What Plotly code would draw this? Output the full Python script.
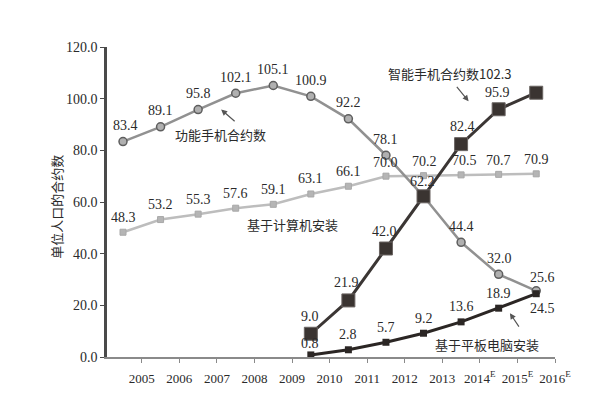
import plotly.graph_objects as go

years = ["2005", "2006", "2007", "2008", "2009", "2010", "2011", "2012", "2013",
         "2014<sup>E</sup>", "2015<sup>E</sup>", "2016<sup>E</sup>"]
feature_phone = [83.4, 89.1, 95.8, 102.1, 105.1, 100.9, 92.2, 78.1, 62.2, 44.4, 32.0, 25.6]
pc_install = [48.3, 53.2, 55.3, 57.6, 59.1, 63.1, 66.1, 70.0, 70.2, 70.5, 70.7, 70.9]
smartphone = [9.0, 21.9, 42.0, 62.2, 82.4, 95.9, 102.3]
tablet = [0.8, 2.8, 5.7, 9.2, 13.6, 18.9, 24.5]
smart_start = 5  # smartphone and tablet series begin at the 6th position
y_ticks = [0, 20, 40, 60, 80, 100, 120]

n = len(years)
x_all = list(range(n))
x_late = list(range(smart_start, smart_start + len(smartphone)))

NUM_FONT = "Liberation Serif, Times New Roman, serif"
CJK_FONT = "Noto Sans CJK SC, Liberation Serif, serif"
TXT = "#2a2a2a"

fig = go.Figure()
fig.add_trace(go.Scatter(
    x=x_all, y=pc_install, mode="lines+markers",
    line=dict(color="#bdbdbd", width=2.5),
    marker=dict(symbol="square", size=6, color="#b5b5b5", line=dict(color="#a8a8a8", width=1)),
    showlegend=False, hoverinfo="skip"))
fig.add_trace(go.Scatter(
    x=x_all, y=feature_phone, mode="lines+markers",
    line=dict(color="#919191", width=2.5),
    marker=dict(symbol="circle", size=8, color="#b0b0b0", line=dict(color="#5e5e5e", width=1.5)),
    showlegend=False, hoverinfo="skip"))
fig.add_trace(go.Scatter(
    x=x_late, y=tablet, mode="lines+markers",
    line=dict(color="#2b2624", width=3),
    marker=dict(symbol="square", size=7, color="#2b2624"),
    showlegend=False, hoverinfo="skip"))
fig.add_trace(go.Scatter(
    x=x_late, y=smartphone, mode="lines+markers",
    line=dict(color="#3b3634", width=3),
    marker=dict(symbol="square", size=13, color="#3a3431", line=dict(color="#6a6462", width=1)),
    showlegend=False, hoverinfo="skip"))

annotations = []


def add_labels(xs, ys, default=(0, 16), special=None, skip=()):
    special = special or {}
    for i, (xv, yv) in enumerate(zip(xs, ys)):
        if i in skip:
            continue
        dx, dy = special.get(i, default)
        annotations.append(dict(
            x=xv, y=yv, text=f"{yv:.1f}", showarrow=False,
            xshift=dx, yshift=dy, xanchor="center", yanchor="middle",
            font=dict(family=NUM_FONT, size=14, color=TXT)))


add_labels(x_all, feature_phone, default=(0, 16),
           special={0: (2, 16), 10: (1, 16), 11: (6, 13)}, skip=(8,))
add_labels(x_all, pc_install, default=(0, 15), special={7: (0, 14), 8: (1, 14), 9: (3, 14), 10: (0, 14), 11: (0, 14)})
add_labels(x_late, smartphone, default=(-1, 17),
           special={1: (-2, 18), 3: (-1, 15), 4: (1, 18)}, skip=(6,))
add_labels(x_late, tablet, default=(0, 15),
           special={0: (-1, 11), 6: (6, -15)})

# series name annotations
annotations.append(dict(x=2, y=feature_phone[2], ax=15, ay=13, axref="pixel", ayref="pixel",
                        showarrow=True, arrowhead=2, arrowsize=1, arrowwidth=1.2, arrowcolor="#555",
                        text="", xshift=23, yshift=0))
annotations.append(dict(x=2.6, y=feature_phone[2], text="功能手机合约数", showarrow=False,
                        xshift=0, yshift=-25, font=dict(family=CJK_FONT, size=13, color=TXT)))
annotations.append(dict(x=4.5, y=pc_install[4], text="基于计算机安装", showarrow=False,
                        yshift=-20, font=dict(family=CJK_FONT, size=13, color=TXT)))
annotations.append(dict(x=8.7, y=smartphone[6], text=f"智能手机合约数{smartphone[6]:.1f}", showarrow=False,
                        yshift=19, font=dict(family=CJK_FONT, size=13, color=TXT)))
annotations.append(dict(x=9.2, y=smartphone[5], ax=-13, ay=-16, axref="pixel", ayref="pixel",
                        showarrow=True, arrowhead=2, arrowsize=1, arrowwidth=1.2, arrowcolor="#555",
                        text="", yshift=8))
annotations.append(dict(x=9.7, y=tablet[3], text="基于平板电脑安装", showarrow=False,
                        yshift=-11, font=dict(family=CJK_FONT, size=13, color=TXT)))
annotations.append(dict(x=10.3, y=tablet[5], ax=10, ay=15, axref="pixel", ayref="pixel",
                        showarrow=True, arrowhead=2, arrowsize=1, arrowwidth=1.2, arrowcolor="#555",
                        text="", yshift=-5))
annotations.append(dict(x=-0.112, y=0.484, xref="paper", yref="paper", text="单位人口的合约数",
                        textangle=-90, showarrow=False, xanchor="center", yanchor="middle",
                        font=dict(family=CJK_FONT, size=13, color=TXT)))

# page body has an 8px default margin, so the figure is 16px smaller and margins shifted
fig.update_layout(
    width=600, height=383,
    margin=dict(l=99, r=53, t=39, b=34),
    paper_bgcolor="white", plot_bgcolor="white",
    annotations=annotations,
    font=dict(family=NUM_FONT, size=13, color=TXT),
)
fig.update_xaxes(
    range=[-0.426, 11.5], tickmode="array", automargin=False,
    tickvals=[i + 0.5 for i in range(n)], ticktext=years,
    showgrid=False, zeroline=False, showline=True, linecolor="#8a8a8a", linewidth=2,
    ticks="outside", ticklen=4, tickcolor="#8a8a8a", tickwidth=1, ticklabelstandoff=4,
    tickfont=dict(family=NUM_FONT, size=13, color=TXT))
fig.update_yaxes(
    range=[0, 120], tickmode="array", tickvals=y_ticks, tickformat=".1f", automargin=False,
    showgrid=False, zeroline=False, showline=True, linecolor="#4a4a4a", linewidth=2.5,
    ticks="outside", ticklen=4, tickcolor="#4a4a4a", tickwidth=1,
    tickfont=dict(family=NUM_FONT, size=14, color=TXT))

fig.write_html("out.html")
